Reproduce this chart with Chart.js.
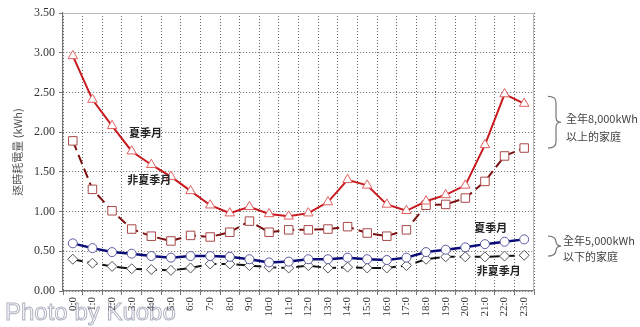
<!DOCTYPE html>
<html lang="zh-Hant">
<head>
<meta charset="UTF-8">
<title>逐時耗電量</title>
<script src="https://cdn.jsdelivr.net/npm/chart.js"></script>
<style>
  html, body { margin: 0; padding: 0; background: #fff; }
  #wrap { width: 640px; height: 327px; }
</style>
</head>
<body>
<div id="wrap"><canvas id="chart"></canvas></div>
<script>
// hours of the day
const hours = ["0:0","1:0","2:0","3:0","4:0","5:0","6:0","7:0","8:0","9:0","10:0","11:0",
               "12:0","13:0","14:0","15:0","16:0","17:0","18:0","19:0","20:0","21:0","22:0","23:0"];

// households above 8,000 kWh / year
const over8000Summer    = [2.96,2.41,2.08,1.76,1.59,1.44,1.26,1.08,0.98,1.06,0.97,0.94,
                           0.98,1.12,1.40,1.33,1.09,1.01,1.13,1.21,1.33,1.84,2.48,2.36];
const over8000NonSummer = [1.89,1.28,1.01,0.78,0.69,0.63,0.70,0.68,0.74,0.88,0.74,0.77,
                           0.77,0.78,0.81,0.73,0.69,0.77,1.08,1.09,1.17,1.38,1.70,1.80];

// households below 5,000 kWh / year
const under5000Summer    = [0.60,0.54,0.49,0.47,0.44,0.42,0.44,0.44,0.43,0.40,0.36,0.37,
                            0.40,0.40,0.42,0.40,0.39,0.42,0.49,0.52,0.55,0.59,0.62,0.65];
const under5000NonSummer = [0.40,0.35,0.31,0.28,0.27,0.26,0.29,0.34,0.34,0.32,0.30,0.29,
                            0.32,0.29,0.30,0.29,0.29,0.32,0.40,0.43,0.43,0.43,0.44,0.45];

const yTicks = [0, 0.5, 1, 1.5, 2, 2.5, 3, 3.5];

const serif = '"Liberation Serif", "DejaVu Serif", serif';
const cjk = '"Noto Sans CJK TC", sans-serif';

// text labels and braces on top of the plot
const notes = {
  id: 'notes',
  afterDraw(chart) {
    const { ctx, chartArea: a, scales: { x, y } } = chart;
    ctx.save();

    // series names inside the plot
    ctx.fillStyle = '#222';
    ctx.font = 'bold 11px ' + cjk;
    ctx.textAlign = 'center';
    ctx.textBaseline = 'middle';
    ctx.fillText('夏季月', x.getPixelForValue(3.7), y.getPixelForValue(1.99));
    ctx.fillText('非夏季月', x.getPixelForValue(3.9), y.getPixelForValue(1.40));
    ctx.fillText('夏季月', x.getPixelForValue(21.3), y.getPixelForValue(0.79));
    ctx.fillText('非夏季月', x.getPixelForValue(21.7), y.getPixelForValue(0.26));

    // braces at the right
    function brace(x0, top, bottom) {
      const mid = (top + bottom) / 2;
      const w = 8;
      ctx.beginPath();
      ctx.moveTo(x0, top);
      ctx.quadraticCurveTo(x0 + w, top, x0 + w, top + 6);
      ctx.lineTo(x0 + w, mid - 5);
      ctx.quadraticCurveTo(x0 + w, mid, x0 + w + 5, mid);
      ctx.quadraticCurveTo(x0 + w, mid, x0 + w, mid + 5);
      ctx.lineTo(x0 + w, bottom - 6);
      ctx.quadraticCurveTo(x0 + w, bottom, x0, bottom);
      ctx.stroke();
    }
    ctx.strokeStyle = '#777';
    ctx.lineWidth = 1.2;
    brace(a.right + 14, y.getPixelForValue(2.45), y.getPixelForValue(1.80));
    brace(a.right + 14, y.getPixelForValue(0.69), y.getPixelForValue(0.44));

    ctx.fillStyle = '#444';
    ctx.font = '11px ' + cjk;
    ctx.textAlign = 'left';
    ctx.fillText('全年8,000kWh', a.right + 32, y.getPixelForValue(2.17));
    ctx.fillText('以上的家庭', a.right + 32, y.getPixelForValue(1.94));
    ctx.fillText('全年5,000kWh', a.right + 29, y.getPixelForValue(0.63));
    ctx.fillText('以下的家庭', a.right + 29, y.getPixelForValue(0.43));

    // light frame on top and right of the plot
    ctx.strokeStyle = '#bbb';
    ctx.lineWidth = 1;
    ctx.beginPath();
    ctx.moveTo(a.left, a.top + 0.5);
    ctx.lineTo(a.right - 0.5, a.top + 0.5);
    ctx.lineTo(a.right - 0.5, a.bottom);
    ctx.stroke();

    // photo credit
    ctx.font = '24px "Liberation Sans", sans-serif';
    ctx.strokeStyle = 'rgba(130,135,160,0.65)';
    ctx.lineWidth = 1;
    ctx.textBaseline = 'alphabetic';
    ctx.strokeText('Photo by Kuobo', 5, 320);

    ctx.restore();
  }
};

new Chart(document.getElementById('chart'), {
  type: 'line',
  data: {
    labels: hours,
    datasets: [
      {
        label: '8000 夏季月',
        data: over8000Summer,
        borderColor: '#c8191e',
        borderWidth: 2,
        pointStyle: 'triangle',
        pointRadius: 5.5,
        pointBorderColor: '#e06060',
        pointBackgroundColor: '#fff',
        pointBorderWidth: 1
      },
      {
        label: '8000 非夏季月',
        data: over8000NonSummer,
        borderColor: '#7a1010',
        borderWidth: 2,
        borderDash: [10, 5],
        pointStyle: 'rect',
        pointRadius: 6,
        pointBorderColor: '#a84848',
        pointBackgroundColor: '#fff',
        pointBorderWidth: 1
      },
      {
        label: '5000 夏季月',
        data: under5000Summer,
        borderColor: '#0a0a78',
        borderWidth: 2.5,
        pointStyle: 'circle',
        pointRadius: 4.5,
        pointBorderColor: '#5a5aa0',
        pointBackgroundColor: '#fff',
        pointBorderWidth: 1
      },
      {
        label: '5000 非夏季月',
        data: under5000NonSummer,
        borderColor: '#111',
        borderWidth: 2,
        borderDash: [10, 5],
        pointStyle: 'rectRot',
        pointRadius: 5,
        pointBorderColor: '#555',
        pointBackgroundColor: '#fff',
        pointBorderWidth: 1
      }
    ]
  },
  options: {
    responsive: true,
    maintainAspectRatio: false,
    animation: false,
    events: [],
    layout: { padding: { top: 13, right: 106, left: 0, bottom: 0 } },
    plugins: {
      legend: { display: false },
      tooltip: { enabled: false }
    },
    elements: { line: { tension: 0 } },
    scales: {
      x: {
        offset: true,
        grid: {
          offset: true,
          color: '#666',
          tickColor: '#777',
          tickLength: 4,
          tickBorderDash: []
        },
        border: { color: '#777', width: 1.2, dash: [1, 2] },
        ticks: {
          color: '#333',
          font: { family: serif, size: 11 },
          maxRotation: 90,
          minRotation: 90,
          autoSkip: false,
          padding: 2
        },
        afterFit(s) { s.height = 36; }
      },
      y: {
        min: 0,
        max: 3.5,
        afterBuildTicks(s) { s.ticks = yTicks.map(v => ({ value: v })); },
        grid: {
          color: '#666',
          tickColor: '#777',
          tickLength: 4,
          tickBorderDash: []
        },
        border: { color: '#777', width: 1.2, dash: [1, 2] },
        ticks: {
          color: '#333',
          font: { family: serif, size: 12 },
          padding: 4,
          callback: v => Number(v).toFixed(2)
        },
        title: {
          display: true,
          text: '逐時耗電量 (kWh)',
          color: '#555',
          font: { family: cjk, size: 11 },
          padding: { top: 11, bottom: 0 }
        },
        afterFit(s) { s.width = 63; }
      }
    }
  },
  plugins: [notes]
});
</script>
</body>
</html>
